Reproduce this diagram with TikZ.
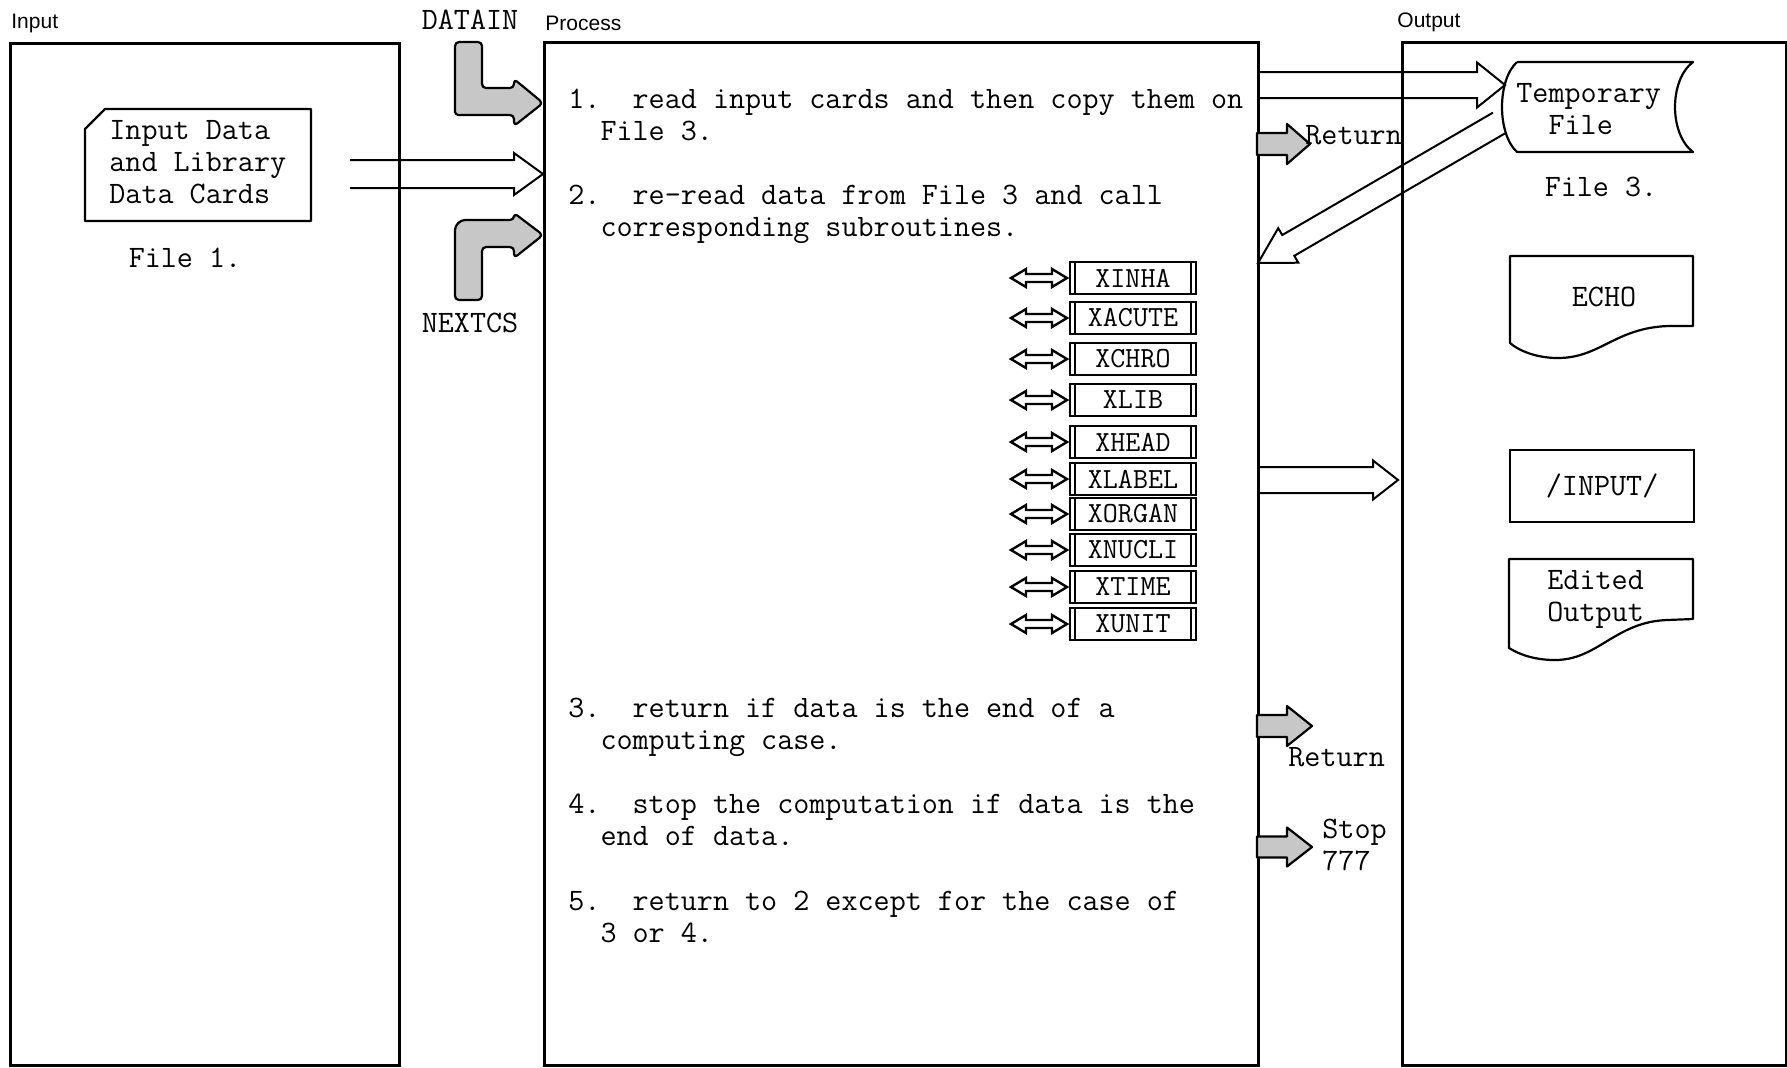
\documentclass[tikz,border=0pt]{standalone}
\usepackage{fontspec}
\newfontfamily\lsans{Liberation Sans}
\usetikzlibrary{calc}
\newcommand{\hollowarrow}[6][]{%
  \path ($(#3)!#6!(#2)$) coordinate (ha-b);
  \draw[#1] ($(#2)!#4!90:(#3)$) -- ($(ha-b)!#4!-90:(#2)$) -- ($(ha-b)!#5!-90:(#2)$) -- (#3) -- ($(ha-b)!#5!90:(#2)$) -- ($(ha-b)!#4!90:(#2)$) -- ($(#2)!#4!-90:(#3)$);}
\newcommand{\blockarrow}[6][]{%
  \path ($(#3)!#6!(#2)$) coordinate (ha-b);
  \draw[#1] ($(#2)!#4!90:(#3)$) -- ($(ha-b)!#4!-90:(#2)$) -- ($(ha-b)!#5!-90:(#2)$) -- (#3) -- ($(ha-b)!#5!90:(#2)$) -- ($(ha-b)!#4!90:(#2)$) -- ($(#2)!#4!-90:(#3)$) -- cycle;}
\begin{document}
\begin{tikzpicture}[x=0.5pt,y=-0.5pt,
  mainbox/.style={draw, line width=1.5pt, anchor=north west, inner sep=0pt},
  shapeline/.style={line width=1.1pt, line join=round},
  harrow/.style={line width=1pt, line join=miter},
  garrow/.style={line width=1.1pt, fill=black!22, line join=round},
  dblar/.style={line width=1.2pt, line join=miter},
  mono/.style={font=\ttfamily\fontsize{15.6pt}{16pt}\selectfont\frenchspacing, inner sep=0pt},
  sub/.style={draw, line width=1pt, minimum width=63pt, minimum height=16pt, inner sep=0pt,
    font=\ttfamily\fontsize{14.6pt}{15pt}\selectfont,
    path picture={\draw[line width=0.8pt]
      ([xshift=2.5pt]path picture bounding box.north west) -- ([xshift=2.5pt]path picture bounding box.south west)
      ([xshift=-2.5pt]path picture bounding box.north east) -- ([xshift=-2.5pt]path picture bounding box.south east);}},
  lab/.style={font=\lsans\fontsize{10.5pt}{12pt}\selectfont, inner sep=0pt},
]
\useasboundingbox[fill=white] (0,0) rectangle (1787,1067);

% column boxes
\node[mainbox, minimum width=194.5pt, minimum height=511pt] (inbox) at (9,42) {};
\node[mainbox, minimum width=357pt, minimum height=511.5pt] (proc) at (543,41) {};
\node[mainbox, minimum width=192pt, minimum height=511.5pt] (outbox) at (1401,41) {};

% headings
\node[lab, anchor=west] (inlab) at (11,23) {Input};
\node[lab, anchor=west] (proclab) at (545,23) {Process};
\node[lab, anchor=west] (outlab) at (1397,22) {Output};
\node[mono] (datain) at (470,20) {DATAIN};
\node[mono] (nextcs) at (470,323) {NEXTCS};

% input card
\draw[shapeline] (85,129) -- (105,109) -- (311,109) -- (311,221) -- (85,221) -- cycle;
\node[mono, anchor=base west, align=left] (card) at (109,203) {Input Data\\and Library\\Data Cards};
\node[mono] (file1) at (185,258) {File 1.};

% input -> process
\coordinate (a1s) at (350,174);
\coordinate (a1e) at (543,174);
\hollowarrow[harrow]{a1s}{a1e}{7pt}{10.5pt}{14.5pt}

% DATAIN bent arrow
\draw[garrow, rounded corners=2pt] (455,42) -- (482,42) -- (482,88) -- (514,88) -- (514,79) -- (543,103) -- (514,126) -- (514,115) -- (462,115) .. controls (457,115) and (455,113) .. (455,108) -- cycle;
% NEXTCS bent arrow
\draw[garrow, rounded corners=2pt] (482,300) -- (455,300) -- (455,234) .. controls (455,225) and (460,220) .. (469,220) -- (514,220) -- (514,213) -- (543,235) -- (514,258) -- (514,247) -- (482,247) -- cycle;

% process text (base = baseline of last line)
\node[mono, anchor=base west, align=left] (step1) at (568,140) {1.\phantom{00}read input cards and then copy them on\\\phantom{00}File 3.};
\node[mono, anchor=base west, align=left] (step2) at (568,236) {2.\phantom{00}re-read data from File 3 and call\\\phantom{00}corresponding subroutines.};
\node[mono, anchor=base west, align=left] (step3) at (568,749) {3.\phantom{00}return if data is the end of a\\\phantom{00}computing case.};
\node[mono, anchor=base west, align=left] (step4) at (568,845) {4.\phantom{00}stop the computation if data is the\\\phantom{00}end of data.};
\node[mono, anchor=base west, align=left] (step5) at (568,942) {5.\phantom{00}return to 2 except for the case of\\\phantom{00}3 or 4.};

% subroutines
\foreach \n/\y in {XINHA/278, XACUTE/318, XCHRO/359, XLIB/400, XHEAD/442, XLABEL/479, XORGAN/514, XNUCLI/550, XTIME/587, XUNIT/624}{
  \node[sub] (\n) at (1133,\y) {\n};
  \draw[dblar] ($(\n.west)+(-2,0)$) -- ++(-15,-9) -- ++(0,5) -- ++(-26,0) -- ++(0,-5) -- ++(-15,9) -- ++(15,9) -- ++(0,-5) -- ++(26,0) -- ++(0,5) -- cycle;
}

% process -> temporary file
\coordinate (t1s) at (1257,85);
\coordinate (t1e) at (1505,85);
\hollowarrow[harrow]{t1s}{t1e}{6.5pt}{11.25pt}{14pt}

% temporary file
\draw[shapeline] (1517,62) -- (1693,62) .. controls (1669,80) and (1669,134) .. (1693,152) -- (1517,152) .. controls (1497,134) and (1497,80) .. (1517,62);
\node[mono, anchor=base west, align=left] (temp) at (1516,134) {Temporary\\\phantom{00}File};
\node[mono] (file3) at (1601,187) {File 3.};

% temporary file -> process
\coordinate (r2s) at (1499,123);
\coordinate (r2e) at (1258,263);
\hollowarrow[harrow]{r2s}{r2e}{6pt}{10pt}{17.5pt}

% return arrows
\coordinate (g1s) at (1257,144);
\coordinate (g1e) at (1310,144);
\blockarrow[garrow]{g1s}{g1e}{5.5pt}{10pt}{11.5pt}
\node[mono, anchor=west] (ret1) at (1305,135) {Return};

\coordinate (g2s) at (1257,726);
\coordinate (g2e) at (1312,726);
\blockarrow[garrow]{g2s}{g2e}{5.5pt}{10pt}{12.5pt}
\node[mono, anchor=west] (ret2) at (1288,757) {Return};

\coordinate (g3s) at (1257,847);
\coordinate (g3e) at (1312,847);
\blockarrow[garrow]{g3s}{g3e}{5.25pt}{9.75pt}{12.5pt}
\node[mono, anchor=base west, align=left] (stop) at (1322,870) {Stop\\777};

% process -> output
\coordinate (o1s) at (1257,480);
\coordinate (o1e) at (1398,480);
\hollowarrow[harrow]{o1s}{o1e}{6.5pt}{9.75pt}{12.5pt}

% ECHO document
\draw[shapeline] (1510,256) -- (1693,256) -- (1693,326) -- (1668,326) .. controls (1615,328) and (1600,358) .. (1558,358) .. controls (1535,358) and (1518,350) .. (1510,343) -- cycle;
\node[mono] (echo) at (1604,297) {ECHO};

% /INPUT/
\node[draw, line width=1.1pt, minimum width=92pt, minimum height=36pt, anchor=north west, inner sep=0pt] (inp) at (1509,449) {};
\node[mono] (inptxt) at (inp.center) {/INPUT/};

% Edited Output document
\draw[shapeline] (1509,559) -- (1693,559) -- (1693,619) -- (1667,620) .. controls (1615,622) and (1598,660) .. (1555,660) .. controls (1532,660) and (1517,653) .. (1509,648) -- cycle;
\node[mono, anchor=base west, align=left] (edited) at (1547,621) {Edited\\Output};
\end{tikzpicture}
\end{document}
